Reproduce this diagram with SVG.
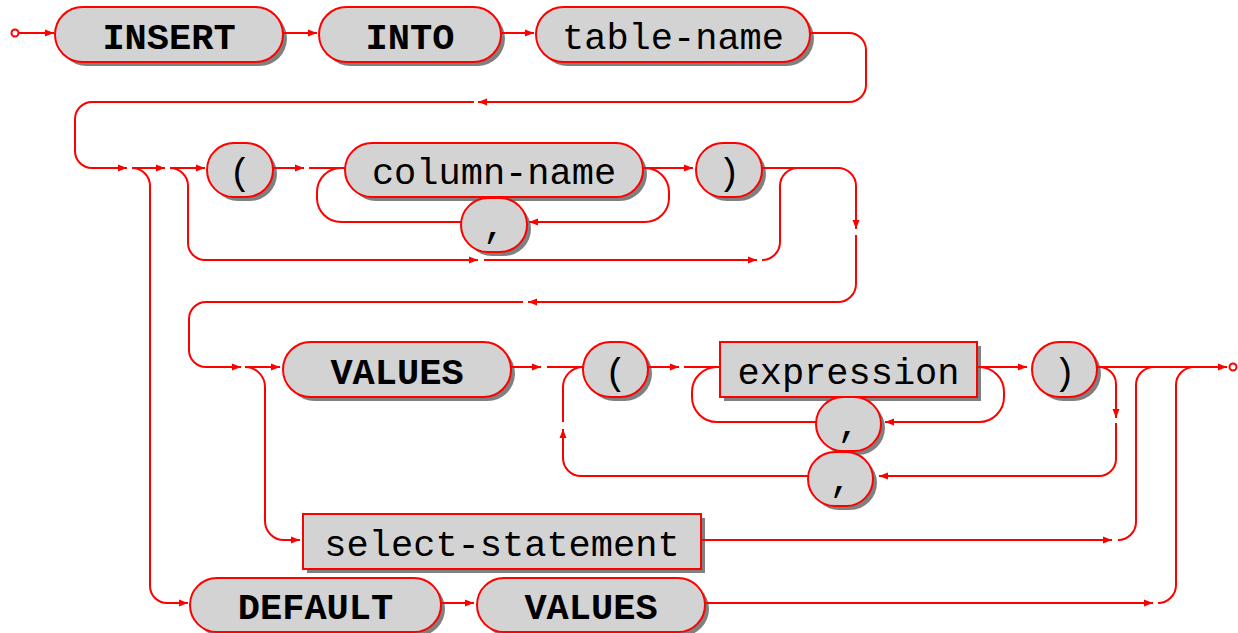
<svg xmlns="http://www.w3.org/2000/svg" width="1238" height="633" viewBox="0 0 1238 633">
<style>
.box{fill:#d3d3d3;stroke:#ff0000;stroke-width:2}
.sh{fill:#808080}
.kw{font-family:"Liberation Mono","Courier New",monospace;font-weight:bold;font-size:37px;text-anchor:middle;fill:#000}
.id{font-family:"Liberation Mono","Courier New",monospace;font-size:37px;text-anchor:middle;fill:#000}
.c{fill:none;stroke:#ff0000;stroke-width:2}
.a{marker-end:url(#ah)}
.term{fill:#fff;stroke:#ff0000;stroke-width:2}
</style>
<defs>
<marker id="ah" markerUnits="userSpaceOnUse" markerWidth="10" markerHeight="8" refX="9" refY="4" orient="auto">
<path d="M0,0.5 L9,4 L0,7.5 z" fill="#ff0000"/>
</marker>
</defs>
<rect width="1238" height="633" fill="#fff"/>

<g id="n-insert"><rect class="sh" x="59" y="11" width="228" height="55" rx="27.5"/><rect class="box" x="55" y="7" width="228" height="55" rx="27.5"/><text class="kw" x="169" y="48.5">INSERT</text></g>
<g id="n-into"><rect class="sh" x="323" y="11" width="182" height="55" rx="27.5"/><rect class="box" x="319" y="7" width="182" height="55" rx="27.5"/><text class="kw" x="410" y="48.5">INTO</text></g>
<g id="n-table-name"><rect class="sh" x="540" y="11" width="274" height="55" rx="27.5"/><rect class="box" x="536" y="7" width="274" height="55" rx="27.5"/><text class="id" x="673" y="48.5">table-name</text></g>

<g id="n-lparen1"><rect class="sh" x="211" y="147" width="66" height="54" rx="27"/><rect class="box" x="207" y="143" width="66" height="54" rx="27"/><text class="id" x="240" y="183.5">(</text></g>
<g id="n-column-name"><rect class="sh" x="349" y="147" width="298" height="54" rx="27"/><rect class="box" x="345" y="143" width="298" height="54" rx="27"/><text class="id" x="494" y="183.5">column-name</text></g>
<g id="n-comma1"><rect class="sh" x="465" y="202" width="66" height="54" rx="27"/><rect class="box" x="461" y="198" width="66" height="54" rx="27"/><text class="id" x="494" y="237">,</text></g>
<g id="n-rparen1"><rect class="sh" x="700" y="147" width="66" height="54" rx="27"/><rect class="box" x="696" y="143" width="66" height="54" rx="27"/><text class="id" x="729" y="183.5">)</text></g>

<g id="n-values"><rect class="sh" x="287" y="346" width="228" height="55" rx="27.5"/><rect class="box" x="283" y="342" width="228" height="55" rx="27.5"/><text class="kw" x="397" y="383.5">VALUES</text></g>
<g id="n-lparen2"><rect class="sh" x="587" y="346" width="65" height="55" rx="27.5"/><rect class="box" x="583" y="342" width="65" height="55" rx="27.5"/><text class="id" x="615.5" y="383.5">(</text></g>
<g id="n-expression"><rect class="sh" x="724" y="346" width="257" height="55"/><rect class="box" x="720" y="342" width="257" height="55"/><text class="id" x="848.5" y="383.5">expression</text></g>
<g id="n-comma2"><rect class="sh" x="820" y="401" width="65" height="54" rx="27"/><rect class="box" x="816" y="397" width="65" height="54" rx="27"/><text class="id" x="848.5" y="436">,</text></g>
<g id="n-comma3"><rect class="sh" x="812" y="456" width="65" height="54" rx="27"/><rect class="box" x="808" y="452" width="65" height="54" rx="27"/><text class="id" x="840.5" y="491">,</text></g>
<g id="n-rparen2"><rect class="sh" x="1036" y="346" width="65" height="55" rx="27.5"/><rect class="box" x="1032" y="342" width="65" height="55" rx="27.5"/><text class="id" x="1064.5" y="383.5">)</text></g>

<g id="n-select-statement"><rect class="sh" x="307" y="518" width="398" height="55"/><rect class="box" x="303" y="514" width="398" height="55"/><text class="id" x="502" y="555.5">select-statement</text></g>
<g id="n-default"><rect class="sh" x="194" y="582" width="251" height="54" rx="27"/><rect class="box" x="190" y="578" width="251" height="54" rx="27"/><text class="kw" x="315.5" y="618.5">DEFAULT</text></g>
<g id="n-values2"><rect class="sh" x="481" y="582" width="228" height="54" rx="27"/><rect class="box" x="477" y="578" width="228" height="54" rx="27"/><text class="kw" x="591" y="618.5">VALUES</text></g>

<g id="connectors">
<circle class="term" cx="15" cy="33" r="3.5"/>
<path class="c a" d="M18.5,33 H54"/>
<path class="c a" d="M283,33 H317"/>
<path class="c a" d="M501,33 H534"/>
<path class="c a" d="M810,33 H849 A17,17 0 0 1 866,50 V85 A17,17 0 0 1 849,102 H478"/>
<path class="c a" d="M474,102 H92 A17,17 0 0 0 75,119 V151 A17,17 0 0 0 92,168 H127"/>

<path class="c a" d="M132,168 H165"/>
<path class="c a" d="M132,168 A18,18 0 0 1 150,186 V586 A17,17 0 0 0 167,603 H188"/>
<path class="c a" d="M170,168 H205"/>
<path class="c a" d="M170,168 A18,18 0 0 1 188,186 V243 A17,17 0 0 0 205,260 H478"/>
<path class="c a" d="M484,260 H757"/>
<path class="c" d="M762,260 A18,18 0 0 0 780,242 V186 A18,18 0 0 1 798,168"/>
<path class="c a" d="M273,168 H304"/>
<path class="c" d="M309,168 H345"/>
<path class="c" d="M341,168 A24,24 0 0 0 317,192 V198 A24,24 0 0 0 341,222 H461"/>
<path class="c a" d="M643,168 H693"/>
<path class="c a" d="M645,168 A24,24 0 0 1 669,192 V198 A24,24 0 0 1 645,222 H529"/>
<path class="c a" d="M762,168 H838 A18,18 0 0 1 856,186 V229"/>
<path class="c a" d="M856,235 V284 A18,18 0 0 1 838,302 H528"/>
<path class="c a" d="M523,302 H206 A17,17 0 0 0 189,319 V350 A17,17 0 0 0 206,367 H241"/>

<path class="c a" d="M245,367 H280"/>
<path class="c a" d="M245,367 A20,20 0 0 1 265,387 V521 A19,19 0 0 0 284,540 H300"/>
<path class="c a" d="M511,367 H541"/>
<path class="c" d="M547,367 H583"/>
<path class="c" d="M583,367 A20,20 0 0 0 563,387 V422"/>
<path class="c a" d="M808,476 H581 A18,18 0 0 1 563,458 V429"/>
<path class="c a" d="M648,367 H679"/>
<path class="c" d="M684,367 H720"/>
<path class="c" d="M717,367 A25,25 0 0 0 692,392 V397 A25,25 0 0 0 717,422 H816"/>
<path class="c a" d="M977,367 H1027"/>
<path class="c a" d="M979,367 A25,25 0 0 1 1004,392 V397 A25,25 0 0 1 979,422 H885"/>
<path class="c a" d="M1097,367 H1227"/>
<circle class="term" cx="1233" cy="367" r="3.5"/>
<path class="c a" d="M1099,367 A17,17 0 0 1 1116,384 V418"/>
<path class="c a" d="M1116,423 V459 A17,17 0 0 1 1099,476 H879"/>
<path class="c a" d="M701,540 H1112"/>
<path class="c" d="M1118,540 A18,18 0 0 0 1136,522 V385 A18,18 0 0 1 1154,367"/>
<path class="c a" d="M705,603 H1153"/>
<path class="c" d="M1158,603 A18,18 0 0 0 1176,585 V385 A18,18 0 0 1 1194,367"/>
<path class="c a" d="M441,603 H474"/>
</g>
</svg>
